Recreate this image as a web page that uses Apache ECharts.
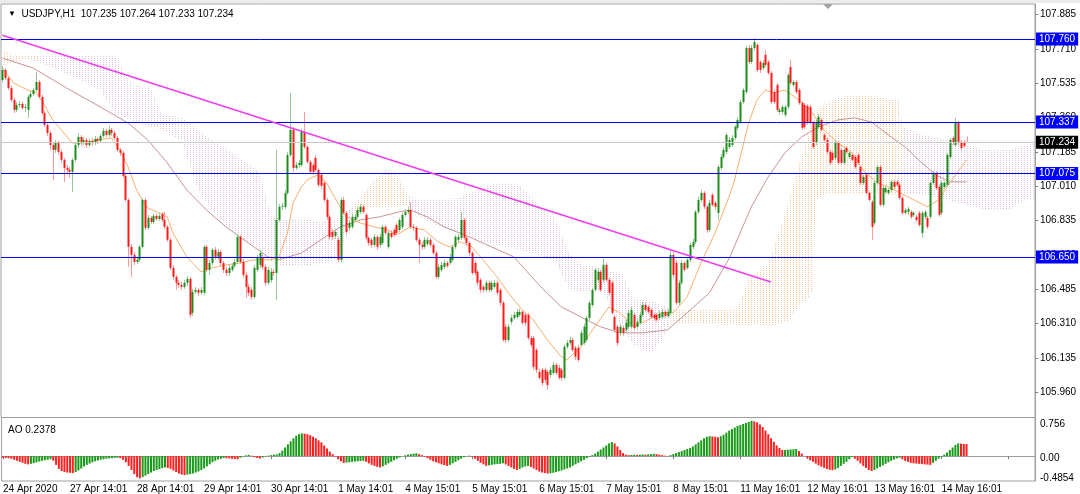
<!DOCTYPE html>
<html><head><meta charset="utf-8">
<script src="https://cdn.jsdelivr.net/npm/echarts@6/dist/echarts.min.js"></script>
<style>html,body{margin:0;padding:0;background:#fff}#c{width:1080px;height:494px}</style>
</head><body><div id="c"></div>
<script>
const headerText = 'USDJPY,H1  107.235 107.264 107.233 107.234';
const aoTitle = 'AO 0.2378';
const timeLabels = ['24 Apr 2020','27 Apr 14:01','28 Apr 14:01','29 Apr 14:01','30 Apr 14:01','1 May 14:01','4 May 15:01','5 May 15:01','6 May 15:01','7 May 15:01','8 May 15:01','11 May 16:01','12 May 16:01','13 May 16:01','14 May 16:01'];
const barsPerLabel = 24;
const futureBars = 24;
const priceTicks = [107.885,107.710,107.535,107.360,107.185,107.010,106.835,106.660,106.485,106.310,106.135,105.960];
const aoTicks = [0.756, 0, -0.4854];
const aoTickLabels = ['0.756', '0.00', '-0.4854'];
const levelPrices = [107.760, 107.337, 107.075, 106.650];
const lastPrice = 107.234;
const trendLine = [[0,107.779],[275,106.522]];

// [open, close, low, high]
const ohlc = [
[107.551,107.602,107.541,107.623],[107.602,107.561,107.551,107.612],[107.561,107.510,107.500,107.572],[107.510,107.449,107.439,107.521],[107.449,107.399,107.383,107.460],
[107.399,107.424,107.388,107.439],[107.424,107.429,107.409,107.444],[107.429,107.409,107.399,107.439],[107.409,107.414,107.388,107.429],[107.399,107.465,107.358,107.475],
[107.465,107.480,107.455,107.495],[107.480,107.500,107.470,107.510],[107.500,107.541,107.490,107.592],[107.541,107.465,107.455,107.551],[107.465,107.383,107.373,107.475],
[107.383,107.322,107.312,107.393],[107.322,107.281,107.266,107.337],[107.281,107.220,107.195,107.292],[107.220,107.195,107.042,107.230],[107.195,107.230,107.180,107.246],
[107.230,107.185,107.169,107.241],[107.185,107.144,107.129,107.195],[107.144,107.103,107.032,107.154],[107.103,107.093,107.073,107.118],[107.093,107.083,107.052,107.108],
[107.083,107.144,106.981,107.154],[107.144,107.220,107.134,107.230],[107.220,107.261,107.205,107.281],[107.261,107.230,107.215,107.271],[107.230,107.246,107.220,107.261],
[107.246,107.220,107.205,107.256],[107.220,107.241,107.210,107.251],[107.241,107.230,107.215,107.256],[107.230,107.251,107.220,107.266],[107.251,107.241,107.225,107.261],
[107.241,107.266,107.230,107.276],[107.266,107.292,107.256,107.307],[107.292,107.271,107.261,107.302],[107.271,107.297,107.261,107.317],[107.297,107.281,107.266,107.307],
[107.281,107.256,107.246,107.292],[107.256,107.195,107.185,107.266],[107.195,107.180,107.164,107.205],[107.180,107.062,107.052,107.190],[107.062,106.940,106.930,107.073],
[106.940,106.701,106.599,106.950],[106.701,106.660,106.548,106.716],[106.660,106.624,106.609,106.675],[106.624,106.635,106.614,106.650],[106.635,106.701,106.624,106.711],
[106.701,106.940,106.691,106.950],[106.940,106.798,106.787,106.950],[106.798,106.849,106.787,106.864],[106.849,106.828,106.818,106.859],[106.828,106.859,106.818,106.869],
[106.859,106.843,106.833,106.869],[106.843,106.859,106.833,106.874],[106.869,106.838,106.828,106.879],[106.838,106.803,106.792,106.879],[106.803,106.737,106.726,106.813],
[106.737,106.594,106.584,106.747],[106.594,106.548,106.533,106.609],[106.548,106.518,106.482,106.558],[106.518,106.507,106.492,106.533],[106.507,106.497,106.482,106.523],
[106.497,106.518,106.487,106.533],[106.518,106.538,106.502,106.553],[106.538,106.355,106.339,106.548],[106.365,106.472,106.349,106.487],[106.472,106.482,106.462,106.497],
[106.482,106.467,106.451,106.492],[106.467,106.482,106.456,106.497],[106.467,106.701,106.456,106.711],[106.701,106.584,106.574,106.711],[106.584,106.619,106.558,106.635],
[106.619,106.686,106.609,106.696],[106.686,106.650,106.635,106.701],[106.650,106.675,106.635,106.691],[106.675,106.619,106.604,106.686],[106.619,106.584,106.568,106.630],
[106.584,106.568,106.553,106.599],[106.568,106.594,106.553,106.609],[106.584,106.604,106.574,106.619],[106.604,106.624,106.594,106.640],[106.624,106.752,106.614,106.762],
[106.752,106.624,106.614,106.762],[106.624,106.558,106.543,106.640],[106.558,106.497,106.441,106.574],[106.497,106.467,106.451,106.512],[106.482,106.446,106.431,106.497],
[106.446,106.594,106.436,106.609],[106.584,106.645,106.574,106.660],[106.609,106.670,106.594,106.686],[106.645,106.599,106.584,106.660],[106.599,106.518,106.502,106.614],
[106.518,106.584,106.507,106.599],[106.533,106.574,106.518,106.594],[106.574,106.568,106.553,106.589],[106.568,106.838,106.431,107.195],[106.838,106.905,106.828,106.920],
[106.905,106.910,106.889,106.925],[106.905,106.976,106.894,106.991],[106.976,107.169,106.966,107.185],[107.169,107.297,107.159,107.485],[107.297,107.103,107.083,107.312],
[107.103,107.118,107.093,107.134],[107.118,107.129,107.103,107.144],[107.118,107.287,107.108,107.302],[107.287,107.210,107.200,107.388],[107.210,107.134,107.124,107.220],
[107.134,107.083,107.073,107.144],[107.118,107.083,107.068,107.129],[107.154,107.093,107.083,107.169],[107.093,107.017,107.006,107.103],[107.068,107.012,106.996,107.078],
[107.027,106.940,106.930,107.037],[106.940,106.854,106.838,106.950],[106.854,106.752,106.737,106.864],[106.777,106.752,106.737,106.792],[106.757,106.777,106.742,106.792],
[106.737,106.635,106.624,106.752],[106.635,106.940,106.619,106.950],[106.940,106.874,106.864,106.956],[106.874,106.777,106.767,106.884],[106.798,106.823,106.782,106.838],
[106.803,106.854,106.792,106.869],[106.838,106.854,106.828,106.869],[106.854,106.889,106.843,106.905],[106.879,106.905,106.869,106.920],[106.905,106.879,106.869,106.915],
[106.864,106.747,106.737,106.874],[106.747,106.721,106.706,106.757],[106.737,106.711,106.696,106.747],[106.711,106.752,106.701,106.767],[106.752,106.701,106.686,106.762],
[106.711,106.752,106.696,106.767],[106.721,106.803,106.711,106.813],[106.803,106.772,106.762,106.813],[106.701,106.772,106.691,106.782],[106.772,106.752,106.742,106.787],
[106.787,106.762,106.752,106.798],[106.813,106.772,106.762,106.823],[106.787,106.838,106.777,106.849],[106.803,106.864,106.792,106.874],[106.864,106.879,106.854,106.894],
[106.879,106.889,106.869,106.905],[106.889,106.803,106.792,106.930],[106.803,106.798,106.782,106.818],[106.798,106.737,106.726,106.808],[106.737,106.711,106.619,106.747],
[106.711,106.701,106.686,106.726],[106.701,106.737,106.691,106.752],[106.716,106.737,106.706,106.752],[106.737,106.711,106.701,106.747],[106.711,106.670,106.660,106.721],
[106.670,106.548,106.538,106.680],[106.548,106.599,106.538,106.614],[106.584,106.609,106.574,106.624],[106.599,106.619,106.589,106.635],[106.619,106.604,106.594,106.630],
[106.619,106.650,106.609,106.665],[106.635,106.701,106.624,106.711],[106.701,106.752,106.691,106.762],[106.737,106.752,106.726,106.767],[106.747,106.838,106.737,106.879],
[106.838,106.747,106.737,106.849],[106.747,106.721,106.706,106.757],[106.721,106.670,106.655,106.731],[106.670,106.568,106.558,106.680],[106.619,106.568,106.553,106.630],
[106.574,106.518,106.502,106.584],[106.533,106.482,106.467,106.543],[106.497,106.482,106.467,106.507],[106.482,106.518,106.472,106.528],[106.518,106.482,106.472,106.528],
[106.482,106.518,106.472,106.528],[106.497,106.518,106.487,106.533],[106.518,106.467,106.456,106.528],[106.482,106.416,106.400,106.492],[106.416,106.227,106.217,106.426],
[106.294,106.227,106.212,106.309],[106.227,106.294,106.217,106.309],[106.319,106.339,106.304,106.355],[106.339,106.355,106.329,106.370],[106.344,106.370,106.334,106.385],
[106.355,106.370,106.344,106.385],[106.370,106.314,106.304,106.380],[106.355,106.314,106.299,106.365],[106.355,106.237,106.227,106.365],[106.237,106.202,106.187,106.248],
[106.237,106.090,106.075,106.248],[106.176,106.075,106.059,106.187],[106.064,106.034,106.024,106.080],[106.075,106.008,105.993,106.085],[106.075,106.024,106.008,106.085],
[106.064,105.998,105.973,106.075],[106.049,106.075,106.034,106.090],[106.059,106.100,106.049,106.115],[106.100,106.059,106.049,106.110],[106.085,106.034,106.024,106.100],
[106.075,106.034,106.019,106.085],[106.034,106.192,106.024,106.202],[106.192,106.212,106.182,106.227],[106.212,106.227,106.202,106.243],[106.227,106.176,106.166,106.237],
[106.187,106.141,106.125,106.197],[106.187,106.125,106.115,106.202],[106.202,106.263,106.192,106.278],[106.212,106.294,106.202,106.309],[106.227,106.339,106.217,106.349],
[106.339,106.416,106.329,106.426],[106.405,106.482,106.395,106.492],[106.482,106.584,106.472,106.594],[106.533,106.574,106.518,106.594],[106.574,106.482,106.472,106.584],
[106.533,106.609,106.518,106.640],[106.609,106.533,106.523,106.619],[106.533,106.467,106.456,106.543],[106.518,106.365,106.355,106.528],[106.344,106.278,106.263,106.355],
[106.294,106.212,106.197,106.304],[106.263,106.294,106.248,106.309],[106.288,106.263,106.248,106.299],[106.278,106.314,106.263,106.329],[106.294,106.365,106.283,106.380],
[106.294,106.380,106.283,106.395],[106.355,106.288,106.278,106.365],[106.294,106.319,106.283,106.334],[106.314,106.355,106.304,106.370],[106.355,106.405,106.344,106.421],
[106.405,106.380,106.370,106.416],[106.395,106.370,106.360,106.405],[106.380,106.344,106.334,106.390],[106.355,106.339,106.324,106.365],[106.355,106.329,106.319,106.365],
[106.339,106.360,106.329,106.375],[106.344,106.370,106.334,106.385],[106.370,106.349,106.339,106.380],[106.349,106.370,106.339,106.385],[106.365,106.660,106.355,106.686],
[106.660,106.558,106.543,106.675],[106.619,106.416,106.405,106.635],[106.416,106.518,106.405,106.533],[106.518,106.619,106.507,106.635],[106.619,106.584,106.574,106.630],
[106.594,106.635,106.584,106.650],[106.635,106.711,106.624,106.721],[106.701,106.726,106.691,106.742],[106.726,106.879,106.716,106.889],[106.879,106.940,106.869,106.956],
[106.940,106.976,106.930,106.991],[106.976,106.905,106.894,106.986],[106.905,106.787,106.772,106.915],[106.787,106.925,106.777,106.940],[106.966,106.915,106.905,106.976],
[106.925,106.905,106.889,106.935],[106.874,107.108,106.838,107.118],[107.103,107.159,107.093,107.174],[107.159,107.195,107.149,107.210],[107.185,107.271,107.174,107.281],
[107.210,107.246,107.200,107.261],[107.220,107.256,107.210,107.271],[107.256,107.312,107.246,107.322],[107.307,107.348,107.297,107.363],[107.337,107.439,107.327,107.449],
[107.439,107.500,107.429,107.510],[107.490,107.714,107.480,107.724],[107.714,107.643,107.633,107.730],[107.643,107.714,107.633,107.730],[107.714,107.745,107.704,107.765],
[107.730,107.602,107.592,107.740],[107.643,107.602,107.587,107.653],[107.612,107.638,107.602,107.653],[107.679,107.628,107.617,107.704],[107.643,107.587,107.577,107.653],
[107.587,107.439,107.429,107.597],[107.490,107.439,107.429,107.500],[107.526,107.399,107.388,107.536],[107.388,107.399,107.373,107.409],[107.388,107.414,107.378,107.424],
[107.373,107.414,107.363,107.424],[107.414,107.577,107.404,107.587],[107.617,107.536,107.526,107.653],[107.526,107.541,107.516,107.551],[107.541,107.490,107.480,107.551],
[107.500,107.434,107.424,107.510],[107.434,107.307,107.297,107.444],[107.424,107.312,107.302,107.434],[107.419,107.332,107.322,107.429],[107.414,107.332,107.322,107.424],
[107.332,107.210,107.200,107.342],[107.230,107.332,107.220,107.348],[107.312,107.363,107.302,107.378],[107.348,107.297,107.287,107.358],[107.271,107.246,107.236,107.281],
[107.246,107.185,107.174,107.256],[107.185,107.129,107.118,107.195],[107.180,107.144,107.134,107.190],[107.154,107.236,107.144,107.246],[107.230,107.129,107.118,107.241],
[107.195,107.129,107.118,107.205],[107.129,107.195,107.118,107.205],[107.205,107.185,107.174,107.215],[107.159,107.180,107.149,107.190],[107.169,107.144,107.134,107.180],
[107.159,107.108,107.098,107.169],[107.169,107.129,107.118,107.180],[107.108,107.027,107.017,107.118],[107.027,107.057,107.017,107.068],[107.068,106.976,106.966,107.078],
[106.976,106.940,106.930,106.986],[106.930,106.803,106.737,106.940],[106.823,107.027,106.813,107.037],[107.027,107.108,107.017,107.118],[107.108,106.915,106.905,107.118],
[106.915,107.001,106.905,107.012],[106.981,107.001,106.971,107.012],[106.976,106.991,106.966,107.001],[106.991,107.032,106.981,107.042],[107.032,107.006,106.996,107.042],
[107.032,107.017,107.006,107.042],[107.017,106.950,106.940,107.027],[106.950,106.874,106.864,106.961],[106.874,106.889,106.864,106.899],[106.879,106.894,106.864,106.905],
[106.879,106.854,106.843,106.889],[106.864,106.874,106.854,106.884],[106.854,106.838,106.828,106.864],[106.874,106.813,106.803,106.884],[106.772,106.874,106.747,106.884],
[106.854,106.879,106.843,106.889],[106.849,106.803,106.792,106.859],[106.854,107.027,106.843,107.037],[107.027,107.078,107.017,107.088],[107.078,107.001,106.991,107.088],
[107.006,106.864,106.854,107.017],[106.874,107.027,106.864,107.037],[107.006,107.027,106.996,107.037],[107.017,107.169,107.006,107.180],[107.159,107.246,107.149,107.256],
[107.256,107.230,107.220,107.266],[107.220,107.337,107.210,107.358],[107.332,107.230,107.220,107.342],[107.236,107.205,107.195,107.246],[107.236,107.215,107.205,107.246],
[107.235,107.234,107.233,107.264]
];

const ao = [
-0.03,-0.035,-0.04,
-0.05,-0.07,-0.09,-0.11,-0.13,-0.15,-0.16,
-0.15,-0.135,-0.12,-0.105,-0.09,-0.08,-0.07,-0.06,
-0.09,-0.17,-0.25,-0.29,-0.31,-0.32,-0.325,-0.33,
-0.31,-0.28,-0.24,-0.20,-0.17,-0.145,-0.12,-0.10,-0.085,-0.07,-0.06,-0.05,-0.045,-0.04,-0.035,-0.03,
-0.04,-0.07,-0.12,-0.19,-0.27,-0.35,-0.41,-0.435,
-0.41,-0.38,-0.35,-0.32,-0.29,-0.27,-0.25,-0.235,-0.22,
-0.23,-0.25,-0.28,-0.31,-0.34,-0.36,-0.37,
-0.36,-0.35,-0.34,-0.32,-0.30,-0.27,-0.24,-0.20,-0.16,-0.12,-0.09,-0.065,-0.05,-0.035,
-0.04,-0.045,-0.05,-0.055,-0.06,
-0.03,-0.005,0.015,0.025,
0.01,-0.02,-0.035,-0.045,
-0.025,-0.005,0.01,0.02,0.03,0.035,
0.06,0.11,0.17,0.23,0.29,0.35,0.40,0.43,0.445,
0.44,0.43,0.41,0.38,0.35,0.31,0.27,0.21,0.15,0.09,0.04,
-0.01,-0.06,-0.10,-0.13,
-0.125,-0.12,-0.11,-0.105,-0.10,-0.095,-0.09,
-0.11,-0.14,-0.17,-0.19,-0.21,-0.22,
-0.20,-0.17,-0.14,-0.11,-0.08,-0.05,-0.025,0.0,
0.015,0.03,0.04,0.05,0.056,
0.04,0.02,-0.01,-0.04,-0.07,-0.10,-0.12,-0.14,-0.16,-0.175,-0.19,
-0.17,-0.14,-0.11,-0.08,-0.05,-0.02,0.0,0.01,
-0.01,-0.05,-0.09,-0.13,-0.16,-0.19,
-0.18,-0.17,-0.16,-0.155,-0.15,-0.14,
-0.16,-0.19,-0.22,-0.25,-0.27,
-0.25,-0.22,-0.20,-0.19,
-0.21,-0.24,-0.27,-0.30,-0.32,-0.33,-0.34,
-0.335,-0.325,-0.31,-0.295,-0.28,-0.26,-0.24,-0.22,-0.19,-0.16,-0.13,-0.10,-0.07,-0.04,-0.01,
0.02,0.05,0.09,0.13,0.17,0.21,0.25,0.275,
0.25,0.19,0.12,0.06,
0.03,0.02,0.025,0.03,0.025,0.03,0.035,0.03,0.035,0.04,0.045,0.04,0.03,0.02,0.01,0.005,
0.02,0.04,0.06,0.08,0.10,0.12,0.14,0.16,0.19,0.23,0.27,0.31,0.35,0.38,0.39,
0.385,0.38,0.37,
0.39,0.42,0.46,0.50,0.53,0.56,0.59,0.61,0.63,0.65,0.67,0.69,
0.68,0.66,0.62,0.57,0.50,0.43,0.35,0.28,0.21,0.16,0.12,
0.121,0.125,0.13,0.135,0.14,
0.10,0.05,
0.0,-0.04,-0.08,-0.11,-0.145,-0.18,-0.205,-0.23,-0.25,-0.265,-0.275,
-0.26,-0.23,-0.19,-0.15,-0.11,-0.06,-0.02,
-0.05,-0.09,-0.14,-0.19,-0.23,-0.27,-0.29,
-0.27,-0.24,-0.21,-0.18,-0.15,-0.12,-0.09,-0.065,-0.045,-0.03,
-0.06,-0.09,-0.11,-0.13,-0.14,-0.145,-0.15,-0.155,-0.16,-0.165,-0.17,
-0.13,-0.09,-0.05,-0.01,
0.03,0.07,0.12,0.17,0.22,0.25,
0.245,0.24,0.2378
];

const maFast = [[0,107.612],[4,107.536],[9,107.500],[12,107.485],[14,107.449],[16,107.399],[18,107.348],[22,107.281],[25,107.230],[29,107.230],[34,107.246],[39,107.256],[42,107.195],[45,107.108],[48,106.991],[50,106.940],[52,106.899],[56,106.874],[59,106.854],[61,106.772],[66,106.650],[71,106.574],[75,106.594],[80,106.609],[85,106.619],[90,106.635],[96,106.635],[99,106.650],[102,106.772],[104,106.925],[107,107.006],[109,107.042],[113,107.068],[116,107.027],[120,106.925],[123,106.854],[128,106.823],[133,106.803],[138,106.787],[141,106.762],[146,106.803],[151,106.787],[156,106.726],[160,106.701],[164,106.726],[168,106.701],[172,106.635],[177,106.548],[181,106.467],[186,106.380],[190,106.329],[195,106.227],[200,106.141],[202,106.125],[207,106.192],[212,106.294],[217,106.395],[221,106.365],[226,106.294],[231,106.329],[236,106.365],[240,106.365],[245,106.446],[250,106.619],[255,106.772],[260,106.956],[262,107.042],[267,107.332],[270,107.449],[273,107.500],[276,107.485],[280,107.500],[285,107.449],[289,107.399],[294,107.297],[299,107.230],[304,107.180],[308,107.093],[313,107.027],[317,107.006],[324,106.956],[331,106.905],[335,106.940],[339,107.027],[345,107.144]];

const maSlow = [[0,107.663],[11,107.612],[23,107.510],[35,107.414],[45,107.332],[52,107.246],[59,107.129],[66,106.991],[73,106.889],[80,106.803],[88,106.721],[95,106.650],[99,106.635],[107,106.670],[114,106.737],[121,106.803],[128,106.838],[135,106.854],[142,106.879],[146,106.889],[152,106.854],[158,106.803],[167,106.752],[175,106.701],[183,106.650],[193,106.492],[200,106.395],[207,106.344],[214,106.294],[221,106.263],[229,106.263],[238,106.278],[245,106.365],[253,106.467],[260,106.640],[268,106.905],[274,107.057],[280,107.180],[286,107.261],[292,107.312],[299,107.348],[305,107.358],[311,107.337],[318,107.261],[323,107.210],[329,107.129],[334,107.068],[339,107.032],[345,107.032]];

const cloudIdx = [0,4,8,13,20,28,35,41,44,47,53,57,64,70,75,80,86,92,96,100,110,118,122,126,129,133,137,141,145,148,155,163,170,177,185,192,198,203,208,215,222,226,232,236,239,242,250,258,263,267,271,274,277,282,285,288,290,291,295,300,305,310,315,318,321,322,330,338,345,352,360,366,369];
const cloudTop = [107.704,107.679,107.674,107.679,107.679,107.679,107.679,107.668,107.577,107.526,107.510,107.373,107.363,107.297,107.246,107.205,107.144,107.083,106.864,106.838,106.838,106.828,106.864,106.915,106.966,107.042,107.093,107.068,106.966,106.940,106.940,106.950,106.991,107.027,107.017,106.915,106.838,106.660,106.609,106.594,106.558,106.431,106.431,106.405,106.390,106.380,106.380,106.380,106.390,106.533,106.584,106.609,106.737,106.966,107.118,107.246,107.348,107.399,107.434,107.465,107.475,107.475,107.460,107.449,107.449,107.312,107.271,107.246,107.220,107.195,107.195,107.220,107.230];
const cloudBottom = [107.623,107.643,107.658,107.643,107.602,107.551,107.500,107.373,107.358,107.337,107.312,107.297,107.246,106.991,106.889,106.813,106.737,106.675,106.624,106.609,106.609,106.624,106.711,106.813,106.889,106.905,106.905,106.905,106.915,106.864,106.813,106.777,106.737,106.711,106.686,106.660,106.624,106.482,106.472,106.472,106.278,106.202,106.161,106.227,106.319,106.314,106.314,106.304,106.304,106.304,106.304,106.304,106.304,106.329,106.405,106.431,106.482,106.940,106.976,106.976,106.976,106.976,106.976,106.966,106.966,106.976,106.966,106.940,106.915,106.889,106.889,106.940,106.940];
const cloudKind = ['A','A','A','B','B','B','B','B','B','B','B','B','B','B','B','B','B','B','B','B','B','B','B','A','A','A','A','A','B','B','B','B','B','B','B','B','B','B','B','B','B','B','B','B','A','A','A','A','A','A','A','A','A','A','A','A','A','A','A','A','A','A','A','A','A','B','B','B','B','B','B','B','B'];

// ---------- build ----------
const nBars = ohlc.length;
const categories = [];
for (let i = 0; i < nBars + futureBars; i++) categories.push(String(i));

const FONT = 'Liberation Sans, Arial, sans-serif';
const chart = echarts.init(document.getElementById('c'), null, {renderer: 'canvas'});

function hatch(color) {
  const c = document.createElement('canvas');
  c.width = 3; c.height = 2;
  const g = c.getContext('2d');
  g.fillStyle = color;
  g.fillRect(1, 0, 1, 1);
  return {type: 'pattern', image: c, repeat: 'repeat'};
}
const hatchA = hatch('rgba(244,160,92,0.6)');
const hatchB = hatch('rgba(210,170,210,0.75)');

function renderCloud(params, api) {
  const k = params.dataIndex;
  if (k >= cloudIdx.length - 1) return {type: 'group', children: []};
  const p1 = api.coord([cloudIdx[k], cloudTop[k]]);
  const p2 = api.coord([cloudIdx[k + 1], cloudTop[k + 1]]);
  const p3 = api.coord([cloudIdx[k + 1], cloudBottom[k + 1]]);
  const p4 = api.coord([cloudIdx[k], cloudBottom[k]]);
  return {
    type: 'polygon',
    shape: {points: [p1, p2, p3, p4]},
    style: {fill: cloudKind[k] === 'A' ? hatchA : hatchB, stroke: null}
  };
}

function renderCandle(params, api) {
  const i = api.value(0);
  const o = api.value(1), c = api.value(2), l = api.value(3), h = api.value(4);
  const pO = api.coord([i, o]), pC = api.coord([i, c]);
  const pL = api.coord([i, l]), pH = api.coord([i, h]);
  const xc = Math.round(pO[0]);
  const up = c >= o;
  const top = Math.min(pO[1], pC[1]);
  const hgt = Math.max(1, Math.abs(pO[1] - pC[1]));
  return {
    type: 'group',
    children: [
      {type: 'line', shape: {x1: xc + 0.5, y1: pH[1], x2: xc + 0.5, y2: pL[1]},
        style: {stroke: up ? '#93c993' : '#ff9a9a', lineWidth: 1}},
      {type: 'rect', shape: {x: xc - 0.5, y: top, width: 2, height: hgt},
        style: {fill: up ? '#1c8c1c' : '#ff1a1a'}}
    ]
  };
}

function levelLabel(v, bg) {
  return {show: true, position: 'end', distance: 1, formatter: () => v.toFixed(3),
    backgroundColor: bg, color: '#ffffff', padding: [2, 3, 1, 3], fontSize: 10, fontFamily: FONT};
}
const levelItems = levelPrices.map(v => ({
  yAxis: v,
  lineStyle: {color: '#0000ff', width: 1, type: 'solid'},
  label: levelLabel(v, '#0000ff')
}));
levelItems.unshift({
  yAxis: lastPrice,
  lineStyle: {color: '#c8c8c8', width: 1, type: 'solid'},
  label: levelLabel(lastPrice, '#000000')
});
levelItems.push([
  {coord: trendLine[0], lineStyle: {color: '#f03cf0', width: 1.5, type: 'solid'}, label: {show: false}},
  {coord: trendLine[1]}
]);

const option = {
  animation: false,
  backgroundColor: '#ffffff',
  title: [
    {text: '{t|▼}  ' + headerText, left: 3, top: 4,
      textStyle: {fontSize: 10, fontWeight: 'normal', color: '#000', fontFamily: FONT,
        rich: {t: {fontSize: 8, color: '#000'}}}},
    {text: aoTitle, left: 3, top: 420,
      textStyle: {fontSize: 10, fontWeight: 'normal', color: '#000', fontFamily: FONT}}
  ],
  graphic: [
    {type: 'rect', left: 0, top: 0, shape: {width: 1080, height: 3}, style: {fill: '#ececec'}, silent: true},
    {type: 'polygon', shape: {points: [[823, 4], [833, 4], [828, 9]]}, style: {fill: '#a0a0a0'}, silent: true}
  ],
  grid: [
    {left: 1, right: 45, top: 4, height: 413.5, show: true, borderColor: '#a0a0a0', borderWidth: 1, backgroundColor: 'transparent'},
    {left: 1, right: 45, top: 417.5, height: 63.5, show: true, borderColor: '#a0a0a0', borderWidth: 1, backgroundColor: 'transparent'}
  ],
  xAxis: [
    {type: 'category', gridIndex: 0, data: categories, boundaryGap: true, show: false},
    {type: 'category', gridIndex: 1, data: categories, boundaryGap: true,
      axisLine: {show: true, lineStyle: {color: '#a0a0a0'}},
      axisTick: {show: true, interval: barsPerLabel - 1, alignWithLabel: true, length: 3, lineStyle: {color: '#808080'}},
      axisLabel: {show: true, interval: barsPerLabel - 1, align: 'left', margin: 3, fontSize: 10, color: '#000', fontFamily: FONT,
        formatter: (v, idx) => (idx % barsPerLabel === 0 && timeLabels[idx / barsPerLabel]) ? timeLabels[idx / barsPerLabel] : ''},
      splitLine: {show: false}}
  ],
  yAxis: [
    {type: 'value', gridIndex: 0, position: 'right', min: 105.8318, max: 107.9382, scale: true,
      axisLine: {show: true, lineStyle: {color: '#a0a0a0'}},
      axisTick: {show: true, length: 3, customValues: priceTicks, lineStyle: {color: '#808080'}},
      axisLabel: {show: true, customValues: priceTicks, margin: 5, fontSize: 10, color: '#000', fontFamily: FONT,
        formatter: v => v.toFixed(3)},
      splitLine: {show: false}},
    {type: 'value', gridIndex: 1, position: 'right', min: -0.4854, max: 0.756,
      axisLine: {show: true, lineStyle: {color: '#a0a0a0'}},
      axisTick: {show: false},
      axisLabel: {show: true, customValues: aoTicks, margin: 5, fontSize: 10, color: '#000', fontFamily: FONT,
        formatter: v => {
          const k = aoTicks.indexOf(v);
          const key = k === 0 ? 'a' : (k === 1 ? 'b' : 'c');
          return '{' + key + '|' + aoTickLabels[k] + '}';
        },
        rich: {a: {padding: [14, 0, 0, 0], fontSize: 10, fontFamily: FONT}, b: {padding: [4, 0, 0, 0], fontSize: 10, fontFamily: FONT}, c: {padding: [0, 0, 6, 0], fontSize: 10, fontFamily: FONT}}},
      splitLine: {show: false}}
  ],
  series: [
    {type: 'custom', name: 'cloud', xAxisIndex: 0, yAxisIndex: 0, z: 1, silent: true,
      renderItem: renderCloud, data: cloudIdx.map((x, k) => [x, cloudTop[k], cloudBottom[k]]), encode: {x: 0, y: [1, 2]}},
    {type: 'line', name: 'maSlow', xAxisIndex: 0, yAxisIndex: 0, z: 2, data: maSlow, showSymbol: false, silent: true,
      lineStyle: {color: '#c89494', width: 1}},
    {type: 'line', name: 'maFast', xAxisIndex: 0, yAxisIndex: 0, z: 2, data: maFast, showSymbol: false, silent: true,
      lineStyle: {color: '#f8b070', width: 1}},
    {type: 'custom', name: 'candles', xAxisIndex: 0, yAxisIndex: 0, z: 3, silent: true,
      renderItem: renderCandle, data: ohlc.map((d, i) => [i, d[0], d[1], d[2], d[3]]), encode: {x: 0, y: [1, 2, 3, 4]}},
    {type: 'line', name: 'levels', xAxisIndex: 0, yAxisIndex: 0, z: 5, data: [], silent: true,
      markLine: {symbol: ['none', 'none'], precision: 4, silent: true, animation: false, data: levelItems}},
    {type: 'bar', name: 'AO', xAxisIndex: 1, yAxisIndex: 1, data: ao, barWidth: 2, silent: true,
      itemStyle: {color: p => (p.dataIndex > 0 && ao[p.dataIndex] > ao[p.dataIndex - 1]) ? '#1a9a1a' : '#ff2020'}}
  ]
};
chart.setOption(option);
</script>
</body></html>
